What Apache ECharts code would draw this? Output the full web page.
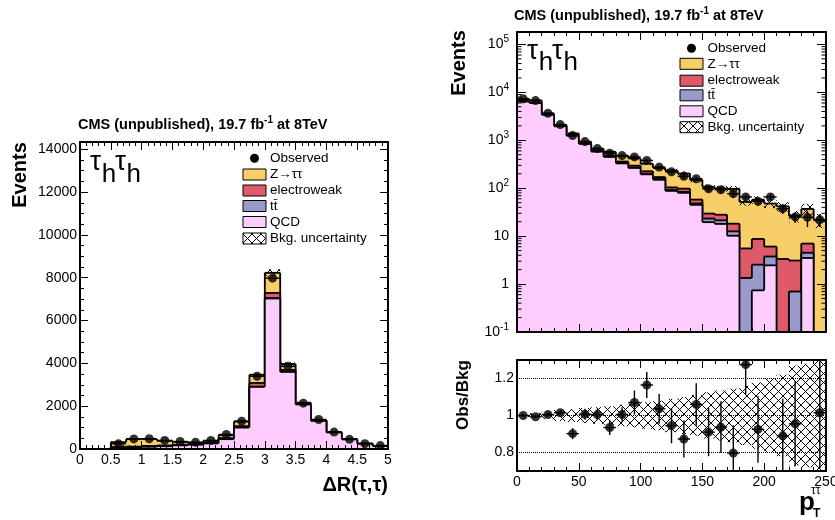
<!DOCTYPE html>
<html><head><meta charset="utf-8">
<script src="https://cdn.jsdelivr.net/npm/echarts@6/dist/echarts.min.js"></script>
<style>html,body{margin:0;padding:0;background:#fff}#c{width:835px;height:520px}</style>
</head><body><div id="c"></div>
<script>
// ---------- Left panel: ΔR(τ,τ), 20 bins of 0.25 ----------
const drEdges = [0,0.25,0.5,0.75,1,1.25,1.5,1.75,2,2.25,2.5,2.75,3,3.25,3.5,3.75,4,4.25,4.5,4.75,5];
const drQCD = [0,0,60,80,105,130,170,200,260,460,1000,2900,7030,3600,2080,1310,770,450,245,137];
const drTT  = [0,0,5,5,5,5,5,5,5,10,10,15,20,15,5,5,2,1,0,0];
const drEW  = [0,0,20,25,30,30,25,20,30,40,60,170,240,80,20,10,5,3,2,1];
const drZ   = [0,0,235,360,330,215,130,75,85,140,210,385,940,275,55,25,13,6,3,2];
const drObs = [0,0,240,470,480,400,350,310,400,680,1300,3400,7980,3860,2140,1380,790,450,250,160];
const drUnc = [0,0,0.06,0.05,0.05,0.05,0.05,0.05,0.05,0.04,0.03,0.025,0.02,0.02,0.02,0.025,0.03,0.03,0.04,0.05];

// ---------- Right panel: pT(ττ), 25 bins of 10 GeV ----------
const ptEdges = [0,10,20,30,40,50,60,70,80,90,100,110,120,130,140,150,160,170,180,190,200,210,220,230,240,250];
const ptQCD = [6450,6000,3400,1960,1250,840,580,450,330,265,195,150,88,80,45,19.6,18,10.2,0,0.74,2.46,0,0,3.5,0];
const ptTT  = [4,4,4,4,5,5,6,6,6,6,6,6,4,4,3,3.7,3.4,2.4,1.34,1.8,1.3,0,0.7,1.0,0];
const ptEW  = [50,50,30,25,25,22,20,25,25,25,25,15,12,14,10,6.3,6.6,5.6,4.2,6.2,2.3,3.34,2.4,2.5,0];
const ptZ   = [796,746,206,111,110,68,64,94,117,124,100,95,129,105,91,77.4,71,78.8,46.1,48.9,41.9,38.7,23.3,30,21.9];
const ptObs = [7350,6750,3660,2130,1255,940,672,537,480,450,380,276,220,177,158,97.6,93,77,65.8,53.3,65.8,37.5,25.2,24.7,22.1];
const ptUnc = [0.008,0.012,0.02,0.03,0.035,0.04,0.045,0.05,0.058,0.065,0.072,0.08,0.09,0.1,0.11,0.125,0.135,0.145,0.16,0.18,0.2,0.22,0.27,0.28,0.33];
// ratio panel
const ratioVal = [1.0,0.993,1.005,1.015,0.902,1.007,1.005,0.935,1.005,1.07,1.165,1.036,0.945,0.873,1.06,0.91,0.937,0.797,1.275,0.925,1.37,0.89,0.955,0.67,1.015];
const ratioErr = [0.008,0.008,0.01,0.012,0.03,0.03,0.03,0.04,0.04,0.065,0.07,0.08,0.095,0.1,0.115,0.13,0.14,0.15,0.16,0.18,0.2,0.2,0.23,0.25,0.3];
const ratioLines = [0.8, 1, 1.2];

const COL = {Z:'#F8CE68', EW:'#DE5A6A', TT:'#9999CC', QCD:'#FFCCFF'};
const FF = '"Liberation Sans", Arial, Helvetica, sans-serif';
const LOGMIN = 0.1, LOGMAX = 182000;
const RMIN = 0.7, RMAX = 1.3;

function cum(...arrs){ return arrs[0].map((_,i)=>arrs.reduce((s,a)=>s+a[i],0)); }
const drC = [drQCD, cum(drQCD,drTT), cum(drQCD,drTT,drEW), cum(drQCD,drTT,drEW,drZ)];
const ptC = [ptQCD, cum(ptQCD,ptTT), cum(ptQCD,ptTT,ptEW), cum(ptQCD,ptTT,ptEW,ptZ)];

function makeHatch(){
  const c=document.createElement('canvas'); c.width=9; c.height=9;
  const g=c.getContext('2d'); g.strokeStyle='#000'; g.lineWidth=1;
  g.beginPath(); g.moveTo(0,0); g.lineTo(9,9); g.moveTo(9,0); g.lineTo(0,9); g.stroke();
  return c;
}
const HATCH = {image: makeHatch(), repeat:'repeat'};

function histSeries(name, edges, vals, color, xi, yi, base, z){
  const n = vals.length;
  const data = vals.map((v,i)=>[edges[i], edges[i+1], v, i>0?vals[i-1]:base, i===n-1?1:0]);
  return {
    name, type:'custom', xAxisIndex:xi, yAxisIndex:yi, z, clip:true, silent:true,
    encode:{x:[0,1], y:2}, data,
    renderItem(params, api){
      const lo=api.value(0), hi=api.value(1), last=api.value(4);
      const v=Math.max(api.value(2), base), p=Math.max(api.value(3), base);
      const a=api.coord([lo,v]), b=api.coord([hi,v]), g0=api.coord([lo,base]), pp=api.coord([lo,p]), gb=api.coord([hi,base]);
      const ls={stroke:'#000', lineWidth:1.8};
      const ch=[];
      if (v>base) ch.push({type:'rect', shape:{x:a[0], y:a[1], width:b[0]-a[0]+(last?0:0.8), height:g0[1]-a[1]}, style:{fill:color}});
      ch.push({type:'line', shape:{x1:pp[0],y1:pp[1],x2:a[0],y2:a[1]}, style:ls});
      ch.push({type:'line', shape:{x1:a[0],y1:a[1],x2:b[0],y2:b[1]}, style:ls});
      if (last) ch.push({type:'line', shape:{x1:b[0],y1:b[1],x2:gb[0],y2:gb[1]}, style:ls});
      return {type:'group', children:ch};
    }
  };
}
function bandSeries(name, edges, center, unc, xi, yi, z){
  const data=[];
  center.forEach((s,i)=>{ if (s>0) data.push([edges[i], edges[i+1], s*(1-unc[i]), s*(1+unc[i])]); });
  return {
    name, type:'custom', xAxisIndex:xi, yAxisIndex:yi, z, clip:true, silent:true,
    encode:{x:[0,1], y:[2,3]}, data,
    renderItem(params, api){
      const a=api.coord([api.value(0), api.value(3)]), b=api.coord([api.value(1), api.value(2)]);
      return {type:'rect', shape:{x:a[0], y:a[1], width:b[0]-a[0], height:b[1]-a[1]}, style:{fill:HATCH}};
    }
  };
}
function errSeries(name, pts, xi, yi, z, floor){
  return {
    name, type:'custom', xAxisIndex:xi, yAxisIndex:yi, z, clip:true, silent:true,
    encode:{x:0, y:1}, data:pts,
    renderItem(params, api){
      const x=api.value(0), y=api.value(1), xl=api.value(2), xh=api.value(3), e=api.value(4);
      const a=api.coord([xl,y]), b=api.coord([xh,y]);
      const c=api.coord([x, Math.max(y-e, floor)]), d=api.coord([x, y+e]);
      const ls={stroke:'#000', lineWidth:1.4};
      return {type:'group', children:[
        {type:'line', shape:{x1:a[0],y1:a[1],x2:b[0],y2:b[1]}, style:ls},
        {type:'line', shape:{x1:c[0],y1:c[1],x2:d[0],y2:d[1]}, style:ls}]};
    }
  };
}

// observed points
const drPts = [], drErr = [];
drObs.forEach((v,i)=>{ if (v>0){ const x=(drEdges[i]+drEdges[i+1])/2; drPts.push([x,v]); drErr.push([x,v,drEdges[i],drEdges[i+1],0]); }});
const ptPts = [], ptErr = [];
ptObs.forEach((v,i)=>{ if (v>0){ const x=(ptEdges[i]+ptEdges[i+1])/2; ptPts.push([x,v]); ptErr.push([x,v,ptEdges[i],ptEdges[i+1], v*ratioErr[i]/ratioVal[i]]); }});
const rPts = [], rErr = [];
ratioVal.forEach((v,i)=>{ if (v>=RMIN && v<=RMAX){ const x=(ptEdges[i]+ptEdges[i+1])/2; rPts.push([x,v]); rErr.push([x,v,ptEdges[i],ptEdges[i+1],ratioErr[i]]); }});
const ones = ptEdges.slice(0,-1).map(()=>1);

// log minor ticks
const logMinor = [];
for (let e=-1; e<=5; e++) for (let k=2; k<=9; k++){ const v=k*Math.pow(10,e); if (v<LOGMAX) logMinor.push([0,v]); }

// axes helpers
const tickStyle = {color:'#000', width:1};
function xAx(gi, min, max, interval, minor, labels, pos){
  return {type:'value', gridIndex:gi, min, max, interval, position:pos, z:20,
    axisLine:{show:true, onZero:false, lineStyle:{color:'#000', width:2}},
    axisTick:{show:true, inside:true, length:8, lineStyle:tickStyle},
    minorTick:{show:true, splitNumber:minor, length:4, lineStyle:tickStyle},
    splitLine:{show:false}, minorSplitLine:{show:false},
    axisLabel:{show:labels, color:'#000', fontSize:14, fontFamily:FF, margin:4, showMinLabel:true, showMaxLabel:true, hideOverlap:false}};
}
function yAx(gi, min, max, interval, minor, labels, pos, fmt){
  return {type:'value', gridIndex:gi, min, max, interval, position:pos, z:20,
    axisLine:{show:true, onZero:false, lineStyle:{color:'#000', width:2}},
    axisTick:{show:true, inside:true, length:8, lineStyle:tickStyle},
    minorTick:{show:true, splitNumber:minor, length:4, lineStyle:tickStyle},
    splitLine:{show:false}, minorSplitLine:{show:false},
    axisLabel:{show:labels, color:'#000', fontSize:14, fontFamily:FF, margin:3, formatter:fmt, hideOverlap:false}};
}
function logAx(gi, labels, pos){
  return {type:'log', logBase:10, gridIndex:gi, min:LOGMIN, max:LOGMAX, splitNumber:7, position:pos, z:20,
    axisLine:{show:true, onZero:false, lineStyle:{color:'#000', width:2}},
    axisTick:{show:true, inside:true, length:9, lineStyle:tickStyle},
    minorTick:{show:false}, splitLine:{show:false}, minorSplitLine:{show:false},
    axisLabel:{show:labels, color:'#000', fontSize:14, fontFamily:FF, margin:8, hideOverlap:false,
      formatter:(v)=>{ const e=Math.round(Math.log10(v)); if (Math.abs(v-Math.pow(10,e))>1e-6*v) return ''; if (e===0) return '1'; if (e===1) return '10'; return '10{s|'+e+'}'; },
      rich:{s:{fontSize:10, fontFamily:FF, color:'#000', padding:[0,0,10,0]}}}};
}
const fmtLeft = v => (Math.abs(v/2000-Math.round(v/2000))<1e-6 ? String(Math.round(v)) : '');
const fmtRatio = v => { for (const t of ratioLines) if (Math.abs(v-t)<1e-6) return t===1?'1':t.toFixed(1); return ''; };

const ratioY = yAx(2, RMIN, RMAX, 0.1, 5, true, 'left', fmtRatio);
ratioY.axisTick.show=false; ratioY.minorTick.show=false;
const ratioY2 = yAx(2, RMIN, RMAX, 0.1, 5, false, 'right');
ratioY2.axisTick.show=false; ratioY2.minorTick.show=false;

// graphic texts
const G = [];
function txt(x,y,text,size,o={}){
  G.push({type:'text', x, y, rotation:o.rot||0, z:100, silent:true,
    style:{text, fontSize:size, fontFamily:FF, fontWeight:o.bold?'bold':'normal', fill:'#000',
      align:o.align||'left', verticalAlign:o.va||'middle', rich:o.rich}});
}
const supRich = {s:{fontSize:10, fontWeight:'bold', fontFamily:FF, fill:'#000', padding:[0,0,10,0]}};
txt(78,125,'CMS (unpublished), 19.7 fb{s|-1} at 8TeV',14.5,{bold:true, rich:supRich});
txt(514,16,'CMS (unpublished), 19.7 fb{s|-1} at 8TeV',14.5,{bold:true, rich:supRich});
function tauh(x0,yb){
  txt(x0, yb-4, 'τ', 28);
  txt(x0+11.8, yb+8, 'h', 26);
  txt(x0+25, yb-4, 'τ', 28);
  txt(x0+36.6, yb+8, 'h', 26);
}
tauh(90,166.7); tauh(527,55);
txt(20,175,'Events',20,{bold:true, rot:Math.PI/2, align:'center'});
txt(459,63,'Events',20,{bold:true, rot:Math.PI/2, align:'center'});
txt(463,395,'Obs/Bkg',17,{bold:true, rot:Math.PI/2, align:'center'});
txt(388,485,'ΔR(τ,τ)',20,{bold:true, align:'right'});
txt(799,503,'p',26,{bold:true});
txt(813,514,'T',12,{bold:true});
txt(811,491,'ττ',12);
function legend(bx, ys, tx){
  G.push({type:'circle', shape:{cx:bx+11.5, cy:ys[0], r:4.5}, style:{fill:'#000'}, z:100, silent:true});
  txt(tx, ys[0], 'Observed', 13.5);
  const items=[['Z→ττ',COL.Z],['electroweak',COL.EW],['tt\u0304',COL.TT],['QCD',COL.QCD],['Bkg. uncertainty',HATCH]];
  items.forEach((it,i)=>{
    G.push({type:'rect', shape:{x:bx, y:ys[i+1]-5.5, width:23, height:11}, style:{fill:it[1], stroke:'#000', lineWidth:1}, z:100, silent:true});
    txt(tx, ys[i+1], it[0], 13.5);
  });
}
legend(243,[158.3,174.5,190.5,206,222,238.5],270);
legend(680,[48.3,63.8,80.7,95.3,111.3,127.2],707.5);

const series = [
  histSeries('Z→ττ', drEdges, drC[3], COL.Z, 0,0, 0, 2),
  histSeries('electroweak', drEdges, drC[2], COL.EW, 0,0, 0, 3),
  histSeries('tt̄', drEdges, drC[1], COL.TT, 0,0, 0, 4),
  histSeries('QCD', drEdges, drC[0], COL.QCD, 0,0, 0, 5),
  bandSeries('Bkg. uncertainty', drEdges, drC[3], drUnc, 0,0, 6),
  errSeries('Observed err', drErr, 0,0, 8, 0),
  {name:'Observed', type:'scatter', xAxisIndex:0, yAxisIndex:0, data:drPts, symbol:'circle', symbolSize:9, itemStyle:{color:'#000'}, z:9, silent:true},

  histSeries('Z→ττ', ptEdges, ptC[3], COL.Z, 2,2, LOGMIN, 2),
  histSeries('electroweak', ptEdges, ptC[2], COL.EW, 2,2, LOGMIN, 3),
  histSeries('tt̄', ptEdges, ptC[1], COL.TT, 2,2, LOGMIN, 4),
  histSeries('QCD', ptEdges, ptC[0], COL.QCD, 2,2, LOGMIN, 5),
  bandSeries('Bkg. uncertainty', ptEdges, ptC[3], ptUnc, 2,2, 6),
  errSeries('Observed err', ptErr, 2,2, 8, LOGMIN),
  {name:'Observed', type:'scatter', xAxisIndex:2, yAxisIndex:2, data:ptPts, symbol:'circle', symbolSize:9, itemStyle:{color:'#000'}, z:9, silent:true},
  {name:'logminor', type:'custom', xAxisIndex:2, yAxisIndex:2, z:25, silent:true, encode:{x:0,y:1}, data:logMinor,
    renderItem(params, api){ const v=api.value(1); const p=api.coord([0,v]), q=api.coord([250,v]);
      const ls={stroke:'#000', lineWidth:1};
      return {type:'group', children:[{type:'line', shape:{x1:p[0],y1:p[1],x2:p[0]+4.5,y2:p[1]}, style:ls},{type:'line', shape:{x1:q[0]-4.5,y1:q[1],x2:q[0],y2:q[1]}, style:ls}]}; }},

  bandSeries('Bkg. uncertainty', ptEdges, ones, ptUnc, 4,4, 6),
  errSeries('Ratio err', rErr, 4,4, 8, -10),
  {name:'Ratio', type:'scatter', xAxisIndex:4, yAxisIndex:4, data:rPts, symbol:'circle', symbolSize:9, itemStyle:{color:'#000'}, z:9, silent:true, clip:true,
    markLine:{silent:true, symbol:['none','none'], label:{show:false}, lineStyle:{type:'dotted', color:'#000', width:1}, data:ratioLines.map(v=>({yAxis:v}))}}
];

const option = {
  animation:false, backgroundColor:'#fff',
  grid:[
    {left:80, top:142, width:308, height:307, containLabel:false, outerBoundsMode:'none'},
    {left:517, top:32, width:309, height:300, containLabel:false, outerBoundsMode:'none'},
    {left:517, top:360, width:309, height:111, containLabel:false, outerBoundsMode:'none'}
  ],
  xAxis:[
    xAx(0,0,5,0.5,5,true,'bottom'), xAx(0,0,5,0.5,5,false,'top'),
    xAx(1,0,250,50,5,false,'bottom'), xAx(1,0,250,50,5,false,'top'),
    xAx(2,0,250,50,5,true,'bottom'), xAx(2,0,250,50,5,false,'top')
  ],
  yAxis:[
    yAx(0,0,14340,2000,4,true,'left',fmtLeft), yAx(0,0,14340,2000,4,false,'right'),
    logAx(1,true,'left'), logAx(1,false,'right'),
    ratioY, ratioY2
  ],
  graphic:G,
  series
};
const chart = echarts.init(document.getElementById('c'), null, {renderer:'canvas'});
chart.setOption(option);
</script></body></html>
